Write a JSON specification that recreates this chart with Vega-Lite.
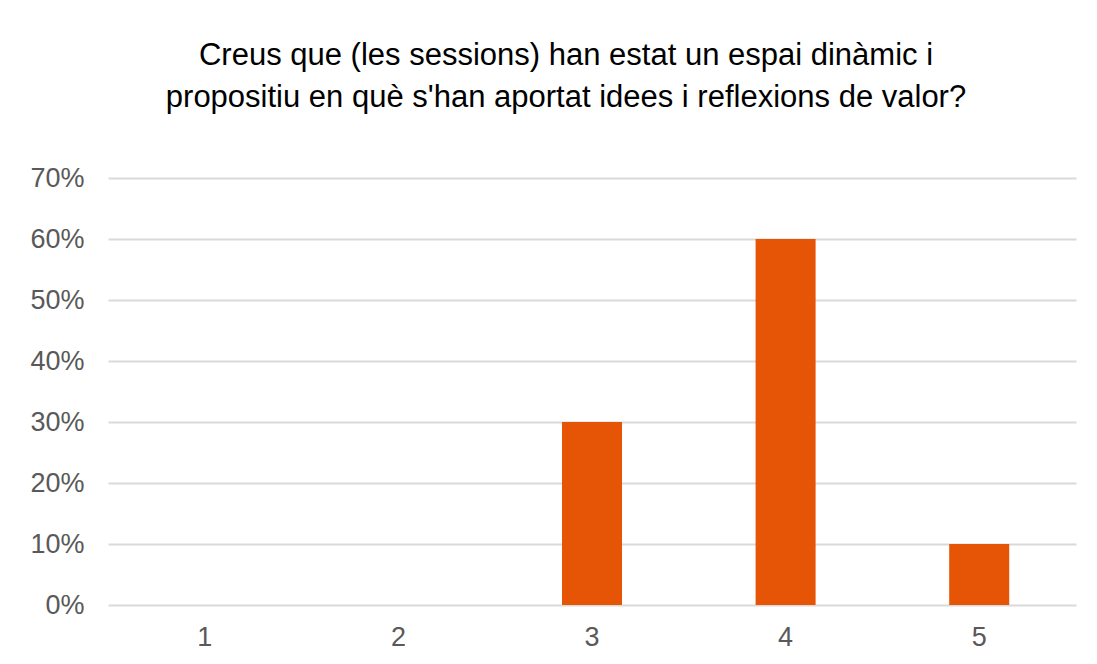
{
  "$schema": "https://vega.github.io/schema/vega-lite/v6.json",
  "autosize": {"type": "none"},
  "padding": {"left": 108, "top": 178, "right": 21, "bottom": 59},
  "width": 968,
  "height": 427,
  "background": "white",
  "title": {
    "text": ["Creus que (les sessions) han estat un espai dinàmic i", "propositiu en què s'han aportat idees i reflexions de valor?"],
    "font": "Liberation Sans",
    "fontSize": 31,
    "fontWeight": "normal",
    "color": "#000000",
    "anchor": "middle",
    "dx": -26,
    "offset": 50,
    "lineHeight": 42
  },
  "data": {
    "values": [
      {"valor": "1", "percent": 0},
      {"valor": "2", "percent": 0},
      {"valor": "3", "percent": 0.3},
      {"valor": "4", "percent": 0.6},
      {"valor": "5", "percent": 0.1}
    ]
  },
  "mark": {"type": "bar", "color": "#E65505"},
  "encoding": {
    "x": {
      "field": "valor",
      "type": "nominal",
      "sort": null,
      "scale": {"paddingInner": 0.69, "paddingOuter": 0.345},
      "axis": {
        "title": null,
        "labelAngle": 0,
        "ticks": false,
        "domain": false,
        "labelFont": "Liberation Sans",
        "labelFontSize": 27,
        "labelColor": "#595959",
        "labelPadding": 19
      }
    },
    "y": {
      "field": "percent",
      "type": "quantitative",
      "scale": {"domain": [0, 0.7], "nice": false},
      "axis": {
        "title": null,
        "format": ".0%",
        "values": [0, 0.1, 0.2, 0.3, 0.4, 0.5, 0.6, 0.7],
        "ticks": false,
        "domain": false,
        "grid": true,
        "gridColor": "#D9D9D9",
        "gridWidth": 2,
        "labelFont": "Liberation Sans",
        "labelFontSize": 27,
        "labelColor": "#595959",
        "labelPadding": 24
      }
    }
  },
  "config": {"view": {"stroke": null}}
}
